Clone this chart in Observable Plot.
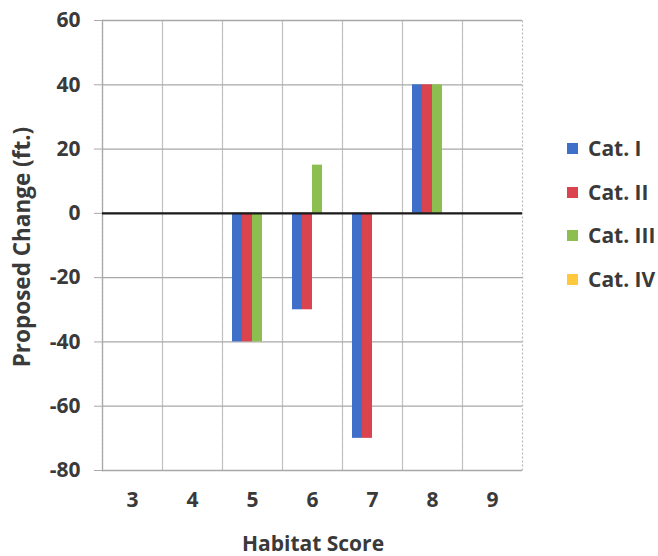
<!DOCTYPE html>
<html>
<head>
<meta charset="utf-8">
<script src="https://cdn.jsdelivr.net/npm/d3@7"></script>
<script src="https://cdn.jsdelivr.net/npm/@observablehq/plot@0.6"></script>
<style>
  html, body { margin: 0; padding: 0; background: #fff; }
  #chart { position: relative; width: 658px; height: 556px; font-family: "Open Sans", Lato, sans-serif; color: #3a3a3a; overflow: hidden; }
  #chart svg { position: absolute; left: 0; top: 0; }
  .ytitle { position: absolute; left: 22px; top: 247px; line-height: 1; transform: translate(-50%, -50%) rotate(-90deg); white-space: nowrap; font-weight: 700; font-size: 22.5px; }
  .xtitle { position: absolute; left: 313px; top: 543px; line-height: 1; transform: translate(-50%, -50%); white-space: nowrap; font-weight: 700; font-size: 21px; }
  .legend { position: absolute; left: 567px; top: 133px; font-size: 21px; font-weight: 700; line-height: 30px; }
  .legend div { height: 43.7px; display: flex; align-items: flex-start; }
  .legend span.sw { display: inline-block; width: 11px; height: 11px; margin-top: 10px; margin-right: 10px; }
</style>
</head>
<body>
<div id="chart"></div>
<script>
// Habitat scores along the x axis
const habitat = [3, 4, 5, 6, 7, 8, 9];
// Series (legend entries) and their colours
const categories = ["Cat. I", "Cat. II", "Cat. III", "Cat. IV"];
const colors = ["#3f6fc8", "#d9444f", "#8dbf50", "#ffc83d"];
// Proposed change (ft.) per habitat score, one array per series
const catI   = [0, 0, -40, -30, -70, 40, 0];
const catII  = [0, 0, -40, -30, -70, 40, 0];
const catIII = [0, 0, -40,  15,   0, 40, 0];
const catIV  = [0, 0,   0,   0,   0,  0, 0];
// Value axis ticks
const yTicks = [-80, -60, -40, -20, 0, 20, 40, 60];

const series = [catI, catII, catIII, catIV];
const rows = [];
habitat.forEach((h, i) => {
  categories.forEach((c, j) => rows.push({habitat: h, cat: c, value: series[j][i]}));
});

const ink = "#3a3a3a";
const chart = Plot.plot({
  width: 658,
  height: 556,
  marginLeft: 99,
  marginRight: 133,
  marginTop: 20,
  marginBottom: 86,
  style: {fontFamily: "'Open Sans', Lato, sans-serif", fontWeight: 700, color: ink, background: "transparent", overflow: "visible"},
  fx: {domain: habitat, padding: 0},
  x: {domain: categories, paddingInner: 0, paddingOuter: 0.77, axis: null},
  y: {domain: [-80, 60]},
  color: {domain: categories, range: colors},
  marks: [
    // dotted vertical gridlines between score groups
    Plot.frame({stroke: "#b8b8b8", strokeDasharray: "2,2", strokeWidth: 1.2}),
    Plot.gridY(yTicks, {stroke: "#a8a8a8", strokeOpacity: 1, strokeWidth: 1.3}),
    Plot.frame({anchor: "left", facetAnchor: "left", stroke: "#a8a8a8", strokeWidth: 1.3}),
    Plot.barY(rows, {fx: "habitat", x: "cat", y: "value", fill: "cat"}),
    Plot.ruleY([0], {stroke: "#1a1a1a", strokeWidth: 2.2}),
    Plot.axisY(yTicks, {tickSize: 8, tickPadding: 14, fontSize: 21, stroke: "#a8a8a8", label: null, tickFormat: d => String(d)}),
    Plot.axisFx({anchor: "bottom", tickSize: 0, tickPadding: 22, fontSize: 21, label: null})
  ]
});

const root = document.getElementById("chart");
root.appendChild(chart);

const yt = document.createElement("div");
yt.className = "ytitle";
yt.textContent = "Proposed Change (ft.)";
root.appendChild(yt);

const xt = document.createElement("div");
xt.className = "xtitle";
xt.textContent = "Habitat Score";
root.appendChild(xt);

const lg = document.createElement("div");
lg.className = "legend";
categories.forEach((c, j) => {
  const row = document.createElement("div");
  const sw = document.createElement("span");
  sw.className = "sw";
  sw.style.background = colors[j];
  row.appendChild(sw);
  row.appendChild(document.createTextNode(c));
  lg.appendChild(row);
});
root.appendChild(lg);
</script>
</body>
</html>
